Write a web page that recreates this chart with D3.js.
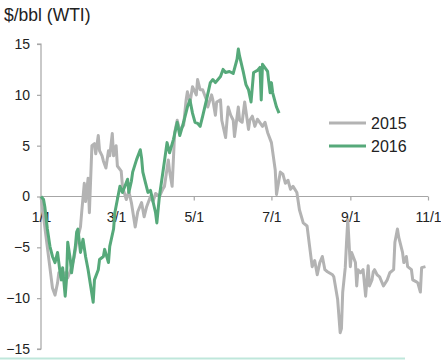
<!DOCTYPE html>
<html>
<head>
<meta charset="utf-8">
<script src="https://cdn.jsdelivr.net/npm/d3@7"></script>
<style>
  html, body { margin: 0; padding: 0; background: #ffffff; }
  svg { display: block; font-family: "Liberation Sans", Arial, sans-serif; }
</style>
</head>
<body>
<svg id="chart" width="441" height="360"></svg>
<script>
// ---- data (days since Jan 1, $/bbl) ----
const seriesNames = ["2015", "2016"];
const days2015 = [0,2,5,7,9,11,13,14,16,19,21,24,26,28,31,32,34,35,37,38,40,42,43,45,46,48,49,51,53,54,56,57,59,60,63,64,67,69,71,74,76,79,81,83,86,88,90,93,96,97,100,101,103,105,107,109,112,114,115,117,119,122,123,125,127,130,131,134,135,137,138,141,142,145,147,149,151,152,155,156,158,160,163,164,166,168,170,174,176,178,181,184,185,188,190,192,194,196,198,201,203,206,209,211,213,215,217,219,221,223,225,229,230,233,235,236,237,239,240,241,243,244,247,248,249,251,253,255,257,258,260,261,262,264,266,269,272,274,277,278,280,281,284,285,287,288,291,292,295,296,298,299,302];
const vals2015 = [0,-2,-5,-7,-9,-9.7,-8.5,-7.5,-8,-7.5,-8,-7,-6,-4.5,-3,-1.5,1.3,-0.5,1.8,-1.6,5,5.2,4.2,6,4.5,4,3.5,2.8,4.5,4,6.2,4,5,3,2.5,1,-0.3,0.5,-0.6,-3,-1.5,-0.6,-2,-1,0,-0.5,0.3,0,0.8,1,3.6,2.5,1,6.3,7.5,6.5,7,9.5,10.3,9.2,10.8,10,11.5,10.5,10.5,9.5,8.8,10,9.5,8,9.3,9.5,7.5,5.8,8.8,8,7.5,5.9,8.8,7.5,7.3,9.3,6.6,7.5,7.9,6.9,7.6,6.9,7.3,6.3,5.3,2.6,0.2,2.4,2.2,1.3,1.6,0.7,1,0.4,-1.3,-2.6,-2.9,-4.9,-6.9,-6.3,-7.7,-6.5,-5.9,-7.2,-7.4,-7.7,-7.9,-10.1,-13.4,-13,-9.4,-7,-4.5,-2.3,-6.9,-5.5,-6.5,-8.8,-7.2,-7.5,-7.2,-9.8,-6.8,-8.8,-8.2,-7.4,-7.2,-7.7,-7.9,-8.8,-8.2,-7.5,-7.2,-4.5,-3.2,-4,-5.5,-6.5,-5.9,-6.9,-7.2,-8.2,-8.4,-8.5,-9.4,-7,-6.9];
const days2016 = [0,2,3,5,7,9,11,13,14,15,16,17,19,20,21,23,24,27,28,29,31,32,33,35,37,39,41,42,45,46,49,50,53,54,57,58,60,62,64,68,69,71,72,75,78,79,80,82,84,86,90,91,93,96,97,99,101,104,107,109,112,115,117,119,121,123,125,127,130,133,135,137,141,143,145,148,151,154,155,156,159,161,163,165,167,170,172,173,174,178,179,180,181,182,185,187];
const vals2016 = [0,-0.3,-1,-3.2,-4.9,-5.9,-6.5,-5.5,-6.5,-7.5,-8.2,-7,-9.8,-8.2,-4.5,-6.2,-7.5,-4.9,-3.5,-3.2,-5.5,-4.9,-4.2,-5.9,-7.2,-8.8,-10.4,-8.2,-7.2,-6.2,-5.9,-5.2,-6.5,-4.9,-3.2,-1.6,-0.3,1,0.4,1.7,0.4,1.5,2.4,3.6,4.6,3.8,2.4,1.4,0.4,0.6,-1.6,-2.6,0,2.6,3.5,5.3,4.3,5.6,7.3,6,7.3,8.8,9.5,8.2,7.3,7.2,6.9,7.9,9.5,11.2,11.5,11.2,11.8,12.5,12.2,12.3,12.1,13.5,14.5,13.8,12.2,11,10.5,9.3,12.2,12.4,12.7,9.5,13,12.3,11.2,10.2,11.2,10.2,8.8,8.2];
const xTickLabels = ["1/1", "3/1", "5/1", "7/1", "9/1", "11/1"];
const yTicks = [-15, -10, -5, 0, 5, 10, 15];
const titleText = "$/bbl (WTI)";

// ---- setup ----
const svg = d3.select("#chart");
const colors = { "2015": "#b3b3b3", "2016": "#56a97a" };
const base = new Date(2015, 0, 1);
const toDate = d => d3.timeDay.offset(base, d);
const parseTick = s => { const [m, d] = s.split("/").map(Number); return new Date(2015, m - 1, d); };

const x = d3.scaleTime().domain([new Date(2015, 0, 1), new Date(2015, 10, 1)]).range([41, 428]);
const y = d3.scaleLinear().domain([-15, 15]).range([349, 44]);

// title
svg.append("text").attr("x", 4).attr("y", 21)
  .attr("font-size", 17.5).attr("fill", "#222").text(titleText);

// y axis
const yAxis = svg.append("g").attr("transform", "translate(41,0)")
  .call(d3.axisLeft(y).tickValues(yTicks).tickSize(4).tickPadding(7).tickFormat(d3.format("d")));
yAxis.selectAll("path,line").attr("stroke", "#a6a6a6").attr("stroke-width", 1.2);
yAxis.selectAll("text").attr("font-size", 14).attr("fill", "#222")
  .attr("font-family", "Liberation Sans, Arial, sans-serif");
yAxis.select(".domain").attr("d", `M-4,${y(15)}H0V${y(-15)}H-4`);

// x axis at zero
const xAxis = svg.append("g").attr("transform", `translate(0,${y(0)})`)
  .call(d3.axisBottom(x).tickValues(xTickLabels.map(parseTick)).tickSize(4).tickPadding(12)
    .tickFormat((d, i) => xTickLabels[i]));
xAxis.selectAll("path,line").attr("stroke", "#a6a6a6").attr("stroke-width", 1.2);
xAxis.select(".domain").attr("d", `M${x.range()[0]},0H${x.range()[1]}`);
xAxis.selectAll("text").attr("font-size", 14).attr("fill", "#222")
  .attr("font-family", "Liberation Sans, Arial, sans-serif");

// lines
const line = d3.line().x(d => x(d.date)).y(d => y(d.v));
const data2015 = days2015.map((d, i) => ({ date: toDate(d), v: vals2015[i] }));
const data2016 = days2016.map((d, i) => ({ date: toDate(d), v: vals2016[i] }));

svg.append("path").datum(data2015).attr("d", line)
  .attr("fill", "none").attr("stroke", colors["2015"]).attr("stroke-width", 3)
  .attr("stroke-linejoin", "round");
svg.append("path").datum(data2016).attr("d", line)
  .attr("fill", "none").attr("stroke", colors["2016"]).attr("stroke-width", 3)
  .attr("stroke-linejoin", "round");

// legend
const legend = svg.append("g");
seriesNames.forEach((name, i) => {
  const ly = 123 + i * 23;
  legend.append("line").attr("x1", 329).attr("x2", 366).attr("y1", ly).attr("y2", ly)
    .attr("stroke", colors[name]).attr("stroke-width", 3);
  legend.append("text").attr("x", 371).attr("y", ly + 6)
    .attr("font-size", 16).attr("fill", "#222").text(name);
});

// bottom decorative rule
svg.append("line").attr("x1", 0).attr("x2", 405).attr("y1", 358.5).attr("y2", 358.5)
  .attr("stroke", "#bfe7db").attr("stroke-width", 2);
</script>
</body>
</html>
